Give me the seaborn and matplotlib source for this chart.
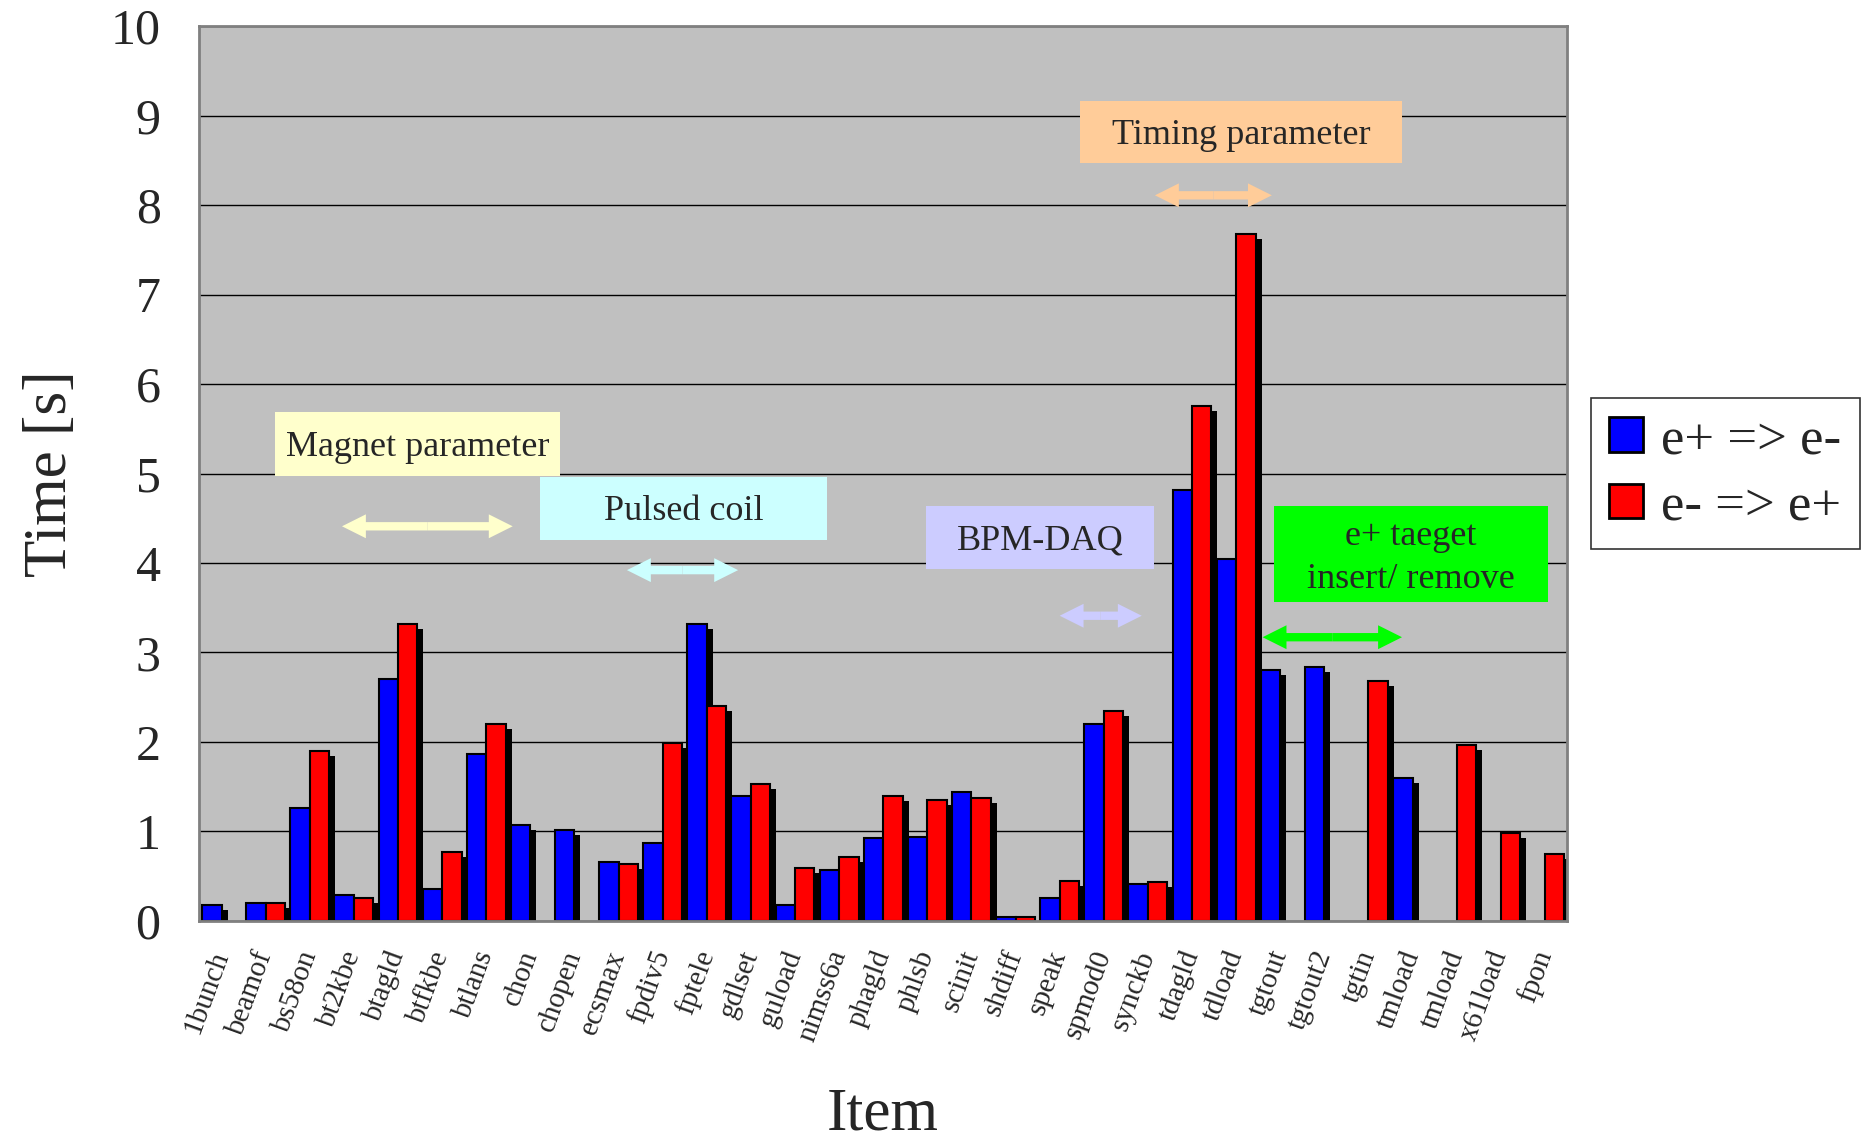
import numpy as np
import pandas as pd
import matplotlib
matplotlib.use("Agg")
import matplotlib.pyplot as plt
import seaborn as sns
from matplotlib.transforms import ScaledTranslation
from matplotlib.patches import Rectangle

nan = np.nan
items = ["1bunch", "beamof", "bs58on", "bt2kbe", "btagld", "btfkbe", "btlans", "chon",
         "chopen", "ecsmax", "fpdiv5", "fptele", "gdlset", "guload", "nimss6a", "phagld",
         "phlsb", "scinit", "shdiff", "speak", "spmod0", "synckb", "tdagld", "tdload",
         "tgtout", "tgtout2", "tgtin", "tmload", "tmload", "x61load", "fpon"]
series_names = ["e+ => e-", "e- => e+"]
pos_to_ele = [0.18, 0.20, 1.26, 0.29, 2.70, 0.36, 1.86, 1.07, 1.01, 0.66, 0.87, 3.32, 1.39,
              0.18, 0.57, 0.92, 0.94, 1.44, 0.04, 0.25, 2.20, 0.41, 4.82, 4.04, 2.80, 2.84,
              nan, 1.60, nan, nan, nan]
ele_to_pos = [nan, 0.20, 1.90, 0.25, 3.32, 0.77, 2.20, nan, nan, 0.64, 1.99, 2.40, 1.53,
              0.59, 0.71, 1.39, 1.35, 1.37, 0.04, 0.45, 2.34, 0.43, 5.76, 7.68, nan, nan,
              2.68, nan, 1.97, 0.98, 0.75]
yticks = list(range(11))

keys = [f"c{i:02d}" for i in range(len(items))]
df = pd.DataFrame({
    "key": keys + keys,
    "Time": pos_to_ele + ele_to_pos,
    "dir": [series_names[0]] * len(keys) + [series_names[1]] * len(keys),
}).dropna()

sns.set_style("white")
plt.rcParams["font.family"] = ["Liberation Serif", "DejaVu Serif"]

fig = plt.figure(figsize=(18.61, 11.41), dpi=100)
ax = fig.add_axes([0.1072, 0.193, 0.7348, 0.784])
ax.set_facecolor("#C0C0C0")

# shadows
sns.barplot(data=df, x="key", y="Time", hue="dir", order=keys, hue_order=series_names,
            palette=["black", "black"], saturation=1, width=0.88, gap=0, errorbar=None,
            legend=False, edgecolor="none", linewidth=0, ax=ax)
off = ScaledTranslation(6 / 100, -5 / 100, fig.dpi_scale_trans)
for p in list(ax.patches):
    p.set_transform(ax.transData + off)

# bars
sns.barplot(data=df, x="key", y="Time", hue="dir", order=keys, hue_order=series_names,
            palette=["#0000FF", "#FF0000"], saturation=1, width=0.88, gap=0, errorbar=None,
            edgecolor="black", linewidth=1.5, ax=ax)

ax.set_xlim(-0.5, len(items) - 0.5)
ax.set_ylim(0, 10)
ax.set_yticks(yticks)
ax.set_yticklabels([str(t) for t in yticks])
ax.tick_params(axis="y", labelsize=36, length=0, pad=28)
ax.set_xticks(range(len(items)))
ax.set_xticklabels(items, rotation=70, ha="right", va="center", rotation_mode="anchor",
                   fontsize=21)
ax.tick_params(axis="x", length=0, pad=22)
ax.yaxis.grid(True, color="black", lw=1)
ax.set_axisbelow(True)
for s in ax.spines.values():
    s.set_color("#808080")
    s.set_linewidth(2)

ax.set_xlabel("Item", fontsize=44)
ax.xaxis.set_label_coords(0.5, -0.186)
ax.set_ylabel("Time [s]", fontsize=44)
ax.yaxis.set_label_coords(-0.088, 0.5)

# annotations
boxes = [
    ("Magnet parameter", 1.21, 7.67, 4.97, 5.69, "#FFFFCC"),
    ("Pulsed coil", 7.22, 13.72, 4.26, 4.96, "#CCFFFF"),
    ("BPM-DAQ", 15.97, 21.14, 3.93, 4.64, "#CCCCFF"),
    ("Timing parameter", 19.46, 26.76, 8.47, 9.16, "#FFCC99"),
    ("e+ taeget\ninsert/ remove", 23.85, 30.08, 3.56, 4.64, "#00FF00"),
]
for txt, x0, x1, y0, y1, col in boxes:
    ax.add_patch(Rectangle((x0, y0), x1 - x0, y1 - y0, facecolor=col, edgecolor="none",
                           zorder=4))
    ax.text((x0 + x1) / 2, (y0 + y1) / 2 - 0.04, txt, ha="center", va="center", fontsize=26,
            linespacing=1.4, zorder=5)

arrows = [
    (2.73, 6.60, 4.41, "#FFFFCC"),
    (9.19, 11.71, 3.92, "#CCFFFF"),
    (19.0, 20.86, 3.41, "#CCCCFF"),
    (21.16, 23.81, 8.11, "#FFCC99"),
    (23.6, 26.76, 3.17, "#00FF00"),
]
for x0, x1, y, col in arrows:
    xm = (x0 + x1) / 2
    for xe in (x0, x1):
        ax.annotate("", xy=(xe, y), xytext=(xm, y),
                    arrowprops=dict(arrowstyle="simple,head_length=0.86,head_width=0.86,tail_width=0.3",
                                    fc=col, ec="none", lw=0, shrinkA=0, shrinkB=0,
                                    mutation_scale=20), zorder=5)

sns.move_legend(ax, "center left", bbox_to_anchor=(1.0175, 0.50), title=None,
                frameon=True, fancybox=False, fontsize=38, handlelength=0.63,
                handleheight=0.63, handletextpad=0.35, labelspacing=0.35, borderpad=0.35,
                borderaxespad=0)
leg = ax.get_legend()
leg.get_frame().set_edgecolor("black")
leg.get_frame().set_linewidth(1.2)
for h in leg.legend_handles:
    h.set_edgecolor("black")
    h.set_linewidth(2)

fig.savefig("out.png", dpi=100, facecolor="white")
